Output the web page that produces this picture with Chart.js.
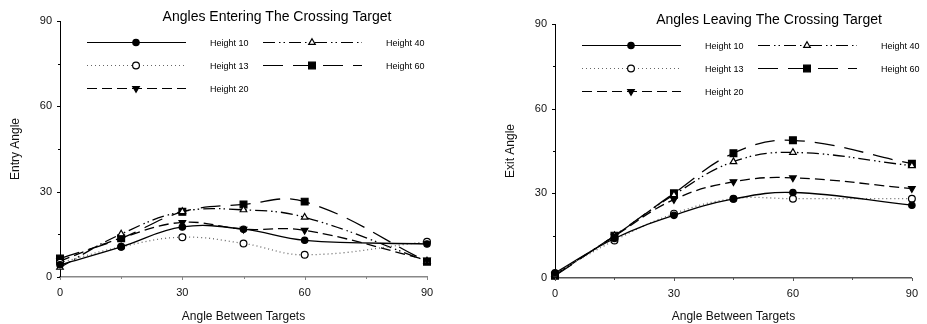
<!DOCTYPE html>
<html>
<head>
<meta charset="utf-8">
<script src="https://cdn.jsdelivr.net/npm/chart.js@4/dist/chart.umd.min.js"></script>
<style>
  html, body { margin: 0; padding: 0; background: #fff; }
  #wrap { position: relative; width: 927px; height: 324px; }
  .box { position: absolute; top: 0; height: 324px; }
  #boxEntry { left: 0; width: 463px; }
  #boxExit { left: 463px; width: 464px; }
</style>
</head>
<body>
<div id="wrap">
  <div class="box" id="boxEntry"><canvas id="entryChart"></canvas></div>
  <div class="box" id="boxExit"><canvas id="exitChart"></canvas></div>
</div>
<script>
// angle between targets (x) for every series
const xAngles = [0, 15, 30, 45, 60, 90];
const axisTicks = [0, 30, 60, 90];

const seriesNames = ['Height 10', 'Height 13', 'Height 20', 'Height 40', 'Height 60'];

// entry angles, one list per height
const entryH10 = [4.3, 10.6, 17.6, 16.8, 12.9, 11.6];
const entryH13 = [5.0, 10.6, 14.0, 11.8, 7.8, 12.4];
const entryH20 = [5.6, 13.7, 19.2, 16.8, 16.4, 6.0];
const entryH40 = [3.4, 15.1, 23.0, 23.6, 21.0, 5.6];
const entryH60 = [6.5, 13.6, 22.9, 25.5, 26.5, 5.4];

// exit angles, one list per height
const exitH10 = [1.8, 14.0, 22.2, 28.0, 30.3, 25.8];
const exitH13 = [1.5, 13.3, 22.8, 28.1, 28.1, 28.1];
const exitH20 = [1.0, 14.8, 27.8, 34.1, 35.5, 31.7];
const exitH40 = [1.2, 15.0, 29.5, 41.2, 44.5, 39.8];
const exitH60 = [0.8, 15.0, 30.0, 44.2, 48.8, 40.5];

// line + marker look for each height
const looks = [
  { dash: [], color: '#000', style: 'circle', radius: 3.2, fill: '#000', rot: 0 },
  { dash: [1, 3], color: '#666', style: 'circle', radius: 3.4, fill: '#fff', rot: 0 },
  { dash: [10, 5], color: '#000', style: 'triangle', radius: 3.8, fill: '#000', rot: 180 },
  { dash: [12, 4, 1.5, 3, 1.5, 4], color: '#000', style: 'triangle', radius: 3.8, fill: '#fff', rot: 0 },
  { dash: [20, 10], color: '#000', style: 'rect', radius: 4.8, fill: '#000', rot: 0 }
];

function buildDatasets(lists) {
  return lists.map(function(vals, i) {
    const lk = looks[i];
    return {
      label: seriesNames[i],
      data: xAngles.map(function(x, j) { return { x: x, y: vals[j] }; }),
      borderColor: lk.color,
      borderWidth: 1.3,
      borderDash: lk.dash,
      tension: 0.4,
      pointStyle: lk.style,
      pointRadius: lk.radius,
      pointRotation: lk.rot,
      pointBackgroundColor: lk.fill,
      pointBorderColor: '#000',
      pointBorderWidth: 1.2,
      clip: false
    };
  });
}

function drawMarker(ctx, lk, x, y) {
  ctx.save();
  ctx.setLineDash([]);
  ctx.lineWidth = 1.2;
  ctx.fillStyle = lk.fill;
  ctx.strokeStyle = '#000';
  if (Chart.helpers && Chart.helpers.drawPoint) {
    Chart.helpers.drawPoint(ctx, { pointStyle: lk.style, rotation: lk.rot, radius: lk.radius, borderWidth: 1.2 }, x, y);
  } else {
    ctx.beginPath();
    ctx.arc(x, y, lk.radius, 0, Math.PI * 2);
    ctx.fill();
    ctx.stroke();
  }
  ctx.restore();
}

// title, legend block and minor ticks sit over the plot area
const overlay = {
  id: 'overlay',
  afterDraw(chart, args, opts) {
    const ctx = chart.ctx;
    const area = chart.chartArea;
    const xs = chart.scales.x;
    const ys = chart.scales.y;

    ctx.save();
    ctx.fillStyle = '#000';
    ctx.font = '14px Arial, "Liberation Sans", sans-serif';
    ctx.textAlign = 'center';
    ctx.textBaseline = 'middle';
    ctx.fillText(opts.title, area.left + opts.titleOffset, area.top - 4);

    // legend: two columns, marker in the middle of each line sample
    const cols = [[0, 1, 2], [3, 4]];
    const colX = [27, 203];
    ctx.font = '9px Arial, "Liberation Sans", sans-serif';
    ctx.textAlign = 'left';
    cols.forEach(function(col, c) {
      col.forEach(function(idx, r) {
        const lk = looks[idx];
        const y = Math.round(area.top + 21 + r * 23) + 0.5;
        const x0 = area.left + colX[c];
        ctx.save();
        ctx.strokeStyle = lk.color;
        ctx.lineWidth = 1.2;
        ctx.setLineDash(lk.dash);
        ctx.beginPath();
        ctx.moveTo(x0, y);
        ctx.lineTo(x0 + 99, y);
        ctx.stroke();
        ctx.restore();
        drawMarker(ctx, lk, x0 + 49, y);
        ctx.fillStyle = '#000';
        ctx.fillText(seriesNames[idx], x0 + 123, y + 1);
      });
    });

    // tick marks: long at labelled values, short between
    for (let v = 0; v <= 90; v += 15) {
      const len = v % 30 === 0 ? 3 : 2;
      const px = xs.getPixelForValue(v);
      ctx.strokeStyle = opts.xAxisColor;
      ctx.lineWidth = 1;
      ctx.beginPath();
      ctx.moveTo(Math.round(px) + 0.5, area.bottom);
      ctx.lineTo(Math.round(px) + 0.5, area.bottom + len);
      ctx.stroke();
      const py = ys.getPixelForValue(v);
      ctx.strokeStyle = '#000';
      ctx.beginPath();
      ctx.moveTo(area.left, Math.round(py) + 0.5);
      ctx.lineTo(area.left - len, Math.round(py) + 0.5);
      ctx.stroke();
    }
    ctx.restore();
  }
};

function makeChart(canvasId, lists, cfg) {
  return new Chart(document.getElementById(canvasId), {
    type: 'line',
    data: { datasets: buildDatasets(lists) },
    options: {
      animation: false,
      responsive: true,
      maintainAspectRatio: false,
      devicePixelRatio: 1,
      layout: { padding: cfg.padding },
      scales: {
        x: {
          type: 'linear',
          min: 0,
          max: 90,
          afterBuildTicks: function(scale) { scale.ticks = axisTicks.map(function(v) { return { value: v }; }); },
          afterFit: function(scale) { scale.height = cfg.xHeight; },
          grid: { display: false, drawTicks: false },
          border: { display: true, color: cfg.xAxisColor, width: 1.5 },
          ticks: { color: '#111', padding: 9, font: { size: 11, family: 'Arial, "Liberation Sans", sans-serif' } },
          title: {
            display: true,
            text: 'Angle Between Targets',
            color: '#111',
            padding: { top: 0, bottom: 0 },
            font: { size: 12, family: 'Arial, "Liberation Sans", sans-serif' }
          }
        },
        y: {
          min: 0,
          max: 90,
          afterBuildTicks: function(scale) { scale.ticks = axisTicks.map(function(v) { return { value: v }; }); },
          afterFit: function(scale) { scale.width = 60; },
          grid: { display: false, drawTicks: false },
          border: { display: true, color: '#000', width: 1 },
          ticks: { color: '#111', padding: 8, font: { size: 11, family: 'Arial, "Liberation Sans", sans-serif' } },
          title: {
            display: true,
            text: cfg.yTitle,
            color: '#111',
            padding: { top: 8, bottom: 0 },
            font: { size: 12, family: 'Arial, "Liberation Sans", sans-serif' }
          }
        }
      },
      plugins: {
        legend: { display: false },
        tooltip: { enabled: false },
        overlay: { title: cfg.title, titleOffset: cfg.titleOffset, xAxisColor: cfg.xAxisColor }
      }
    },
    plugins: [overlay]
  });
}

makeChart('entryChart', [entryH10, entryH13, entryH20, entryH40, entryH60], {
  title: 'Angles Entering The Crossing Target',
  titleOffset: 217,
  yTitle: 'Entry Angle',
  padding: { left: 0, top: 21, right: 36, bottom: 0 },
  xHeight: 47,
  xAxisColor: '#888'
});

makeChart('exitChart', [exitH10, exitH13, exitH20, exitH40, exitH60], {
  title: 'Angles Leaving The Crossing Target',
  titleOffset: 214,
  yTitle: 'Exit Angle',
  padding: { left: 32, top: 24, right: 10, bottom: 0 },
  xHeight: 46,
  xAxisColor: '#555'
});
</script>
</body>
</html>
